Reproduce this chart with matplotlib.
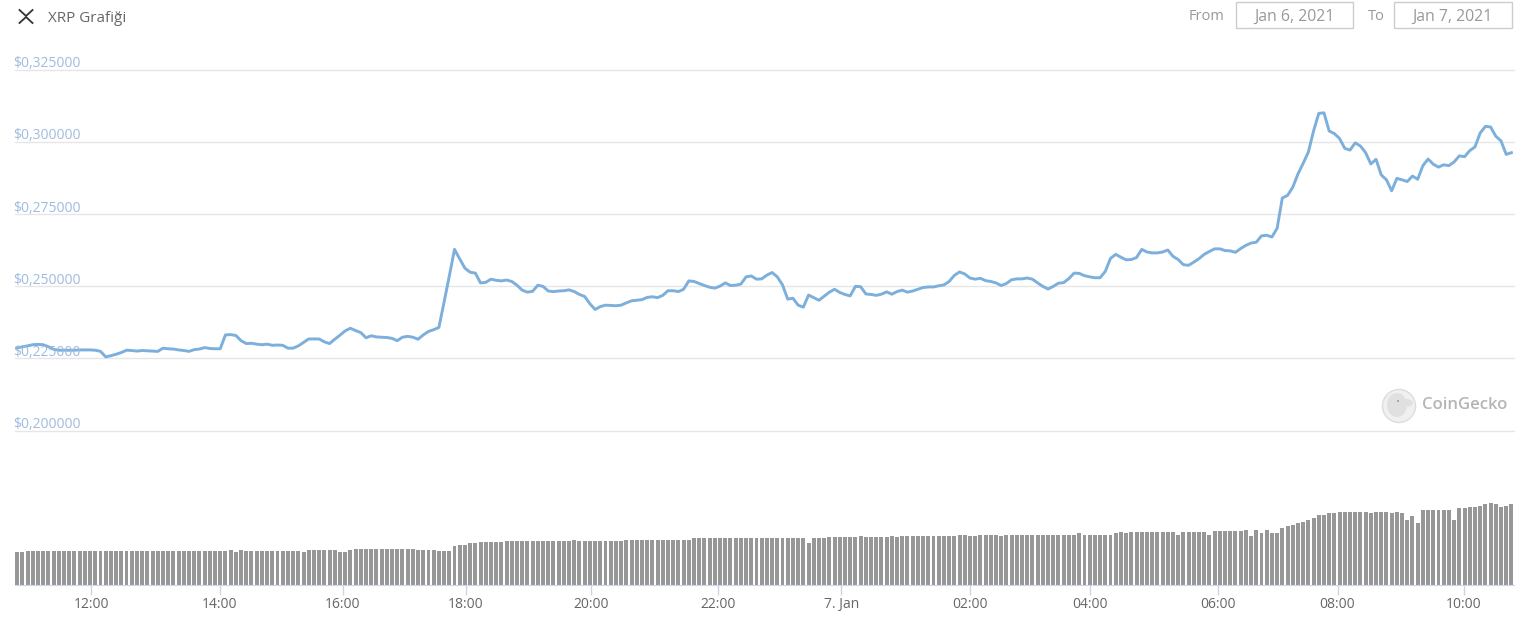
#!/usr/bin/env python3
"""XRP price chart (24h, 5 minute steps) with volume bars under it."""

import matplotlib
matplotlib.use("Agg")
import matplotlib.pyplot as plt
from matplotlib.patches import Circle, Ellipse, Rectangle

plt.rcParams["font.family"] = ["Open Sans", "DejaVu Sans"]

# price in USD, one value per 5 minutes
price = [
    0.2286, 0.2290, 0.2293, 0.2297, 0.2298, 0.2297, 0.2290, 0.2281, 0.2278, 0.2278, 0.2278, 0.2278,
    0.2279, 0.2279, 0.2279, 0.2278, 0.2274, 0.2255, 0.2259, 0.2264, 0.2270, 0.2278, 0.2277, 0.2275,
    0.2277, 0.2276, 0.2275, 0.2274, 0.2285, 0.2283, 0.2282, 0.2279, 0.2277, 0.2274, 0.2280, 0.2282,
    0.2287, 0.2284, 0.2283, 0.2283, 0.2331, 0.2332, 0.2329, 0.2311, 0.2301, 0.2302, 0.2299, 0.2297,
    0.2299, 0.2295, 0.2296, 0.2295, 0.2285, 0.2285, 0.2293, 0.2305, 0.2317, 0.2317, 0.2317, 0.2307,
    0.2301, 0.2316, 0.2330, 0.2345, 0.2354, 0.2346, 0.2339, 0.2321, 0.2328, 0.2324, 0.2323, 0.2322,
    0.2319, 0.2311, 0.2323, 0.2326, 0.2323, 0.2316, 0.2331, 0.2343, 0.2349, 0.2357, 0.2445, 0.2535,
    0.2627, 0.2594, 0.2562, 0.2548, 0.2545, 0.2511, 0.2513, 0.2524, 0.2520, 0.2518, 0.2521, 0.2516,
    0.2503, 0.2486, 0.2479, 0.2482, 0.2503, 0.2499, 0.2483, 0.2481, 0.2483, 0.2484, 0.2487, 0.2481,
    0.2471, 0.2464, 0.2439, 0.2419, 0.2429, 0.2434, 0.2433, 0.2432, 0.2434, 0.2442, 0.2449, 0.2451,
    0.2453, 0.2461, 0.2463, 0.2460, 0.2468, 0.2484, 0.2484, 0.2481, 0.2489, 0.2518, 0.2516, 0.2509,
    0.2502, 0.2496, 0.2493, 0.2500, 0.2511, 0.2502, 0.2503, 0.2507, 0.2532, 0.2535, 0.2524, 0.2525,
    0.2538, 0.2547, 0.2532, 0.2504, 0.2455, 0.2458, 0.2434, 0.2427, 0.2469, 0.2460, 0.2451, 0.2465,
    0.2479, 0.2489, 0.2478, 0.2471, 0.2466, 0.2499, 0.2498, 0.2473, 0.2471, 0.2468, 0.2472, 0.2480,
    0.2472, 0.2481, 0.2486, 0.2479, 0.2483, 0.2489, 0.2495, 0.2497, 0.2497, 0.2501, 0.2504, 0.2516,
    0.2537, 0.2549, 0.2542, 0.2528, 0.2524, 0.2527, 0.2519, 0.2516, 0.2511, 0.2502, 0.2509, 0.2522,
    0.2525, 0.2525, 0.2528, 0.2524, 0.2511, 0.2499, 0.2490, 0.2499, 0.2510, 0.2512, 0.2526, 0.2545,
    0.2544, 0.2536, 0.2532, 0.2529, 0.2529, 0.2551, 0.2596, 0.2610, 0.2600, 0.2591, 0.2592, 0.2599,
    0.2627, 0.2618, 0.2615, 0.2615, 0.2618, 0.2625, 0.2603, 0.2592, 0.2574, 0.2572, 0.2583, 0.2595,
    0.2610, 0.2620, 0.2629, 0.2629, 0.2623, 0.2622, 0.2617, 0.2630, 0.2641, 0.2649, 0.2652, 0.2674,
    0.2676, 0.2670, 0.2700, 0.2805, 0.2814, 0.2842, 0.2888, 0.2925, 0.2964, 0.3037, 0.3098, 0.3100,
    0.3037, 0.3028, 0.3011, 0.2977, 0.2971, 0.2996, 0.2985, 0.2962, 0.2923, 0.2939, 0.2885, 0.2868,
    0.2830, 0.2873, 0.2868, 0.2862, 0.2881, 0.2870, 0.2917, 0.2940, 0.2922, 0.2912, 0.2920, 0.2917,
    0.2930, 0.2951, 0.2948, 0.2969, 0.2982, 0.3030, 0.3053, 0.3051, 0.3019, 0.3003, 0.2956, 0.2962,
]

# volume has no scale in the picture, so these are relative bar heights
volume = [
    32.5, 32.5, 34, 34, 34, 34, 34, 34, 34, 34, 34, 34,
    34, 34, 34, 34, 34, 34, 34, 34, 34, 34, 34, 34,
    34, 34, 34, 34, 34, 34, 34, 34, 34, 34, 34, 34,
    34, 34, 34, 34, 34, 35, 32.5, 35, 34, 34, 34, 34,
    34, 34, 34, 34, 34, 34, 34, 32.5, 35, 35, 35, 35,
    35, 35, 32.5, 32.5, 35, 36, 36, 36, 36, 36, 36, 36,
    36, 36, 36, 36, 36, 35, 35, 35, 35, 34, 34, 34,
    39, 40, 40, 41.3, 41.3, 42.7, 42.7, 42.7, 42.7, 42.7, 44, 44,
    44, 44, 44, 44, 44, 44, 44, 44, 44, 44, 44, 45,
    44, 44, 44, 44, 44, 44, 44, 44, 44, 45, 45, 45,
    45, 45, 45, 45, 45, 45, 45, 45, 45, 45, 46.3, 46.3,
    46.3, 46.3, 46.3, 46.3, 46.3, 46.3, 46.3, 46.3, 46.3, 46.3, 46.3, 46.3,
    46.3, 46.3, 46.3, 46.3, 46.3, 46.3, 46.3, 46.3, 41.3, 46.3, 46.3, 46.3,
    47.7, 47.7, 47.7, 47.7, 47.7, 47.7, 48.7, 47.7, 47.7, 47.7, 47.7, 47.7,
    49, 47.7, 49, 49, 49, 49, 49, 49, 49, 49, 49, 49,
    49, 50, 50, 49, 49, 50, 50, 50, 50, 49, 50, 50,
    50, 50, 50, 50, 50, 50, 50, 50, 50, 50, 50, 50,
    51.3, 50, 50, 50, 50, 50, 50, 51.3, 52.7, 51.3, 52.7, 52.7,
    52.7, 52.7, 52.7, 52.7, 52.7, 52.7, 52.7, 50, 52.7, 52.7, 52.7, 52.7,
    52.7, 50, 53.7, 53.7, 53.7, 53.7, 53.7, 53.7, 55, 49, 55, 51.3,
    55, 51.3, 51.3, 56.3, 59, 60, 61.3, 62.3, 65, 66.3, 69.7, 69.7,
    71.3, 71.3, 72.7, 72.7, 72.7, 72.7, 72.7, 72.7, 71.3, 72.7, 72.7, 72.7,
    71.3, 72.7, 71.3, 65, 69, 61.3, 75, 75, 75, 75, 75, 75,
    65, 76.3, 76.3, 77.7, 77.7, 79, 80.3, 81.3, 80.3, 77.7, 79, 80.3,
]

price_ticks = [0.200, 0.225, 0.250, 0.275, 0.300, 0.325]
price_labels = ["$0,200000", "$0,225000", "$0,250000", "$0,275000", "$0,300000", "$0,325000"]

# the time axis is ordinal, so ticks sit at sample positions
time_ticks = [14.27, 38.96, 62.5, 86.2, 110.3, 134.6, 158.3, 183.1, 206.1, 230.6, 253.6, 277.9]
time_labels = ["12:00", "14:00", "16:00", "18:00", "20:00", "22:00",
               "7. Jan", "02:00", "04:00", "06:00", "08:00", "10:00"]

W, H = 1527, 620
LINE_COLOR = "#7cafdb"
GRID_COLOR = "#e6e6e6"
LABEL_BLUE = "#9fbcdd"
AXIS_COLOR = "#ccd6eb"


def px_axes(fig, left, top, right, bottom):
    """Axes placed by pixel edges, y counted from the top of the image."""
    return fig.add_axes([left / W, 1 - bottom / H, (right - left) / W, (bottom - top) / H])


fig = plt.figure(figsize=(W / 100, H / 100), dpi=100, facecolor="white")
xs = list(range(len(price)))
xlim = (-0.42, 287.5)

# price panel
ax = px_axes(fig, 15, 69.5, 1514, 430.5)
ax.set_xlim(xlim)
ax.set_ylim(price_ticks[0], price_ticks[-1])
ax.set_yticks(price_ticks)
ax.set_xticks([])
ax.tick_params(left=False, labelleft=False)
ax.grid(True, axis="y", color=GRID_COLOR, linewidth=1)
for g in ax.get_ygridlines():
    g.set_clip_on(False)  # first and last lines sit on the axes edge
ax.set_axisbelow(True)
for s in ax.spines.values():
    s.set_visible(False)
ax.patch.set_alpha(0)
ax.plot(xs, price, color=LINE_COLOR, linewidth=2.1, solid_joinstyle="round", clip_on=False)
for v, label in zip(price_ticks, price_labels):
    ax.annotate(label, (0, v), xycoords=ax.get_yaxis_transform(), xytext=(-1, -1.2),
                textcoords="offset points", color=LABEL_BLUE, fontsize=10, ha="left", va="bottom")

# volume panel
vol = px_axes(fig, 15, 430.5, 1514, 584.5)
vol.set_xlim(xlim)
vol.set_ylim(0, 154)
vol.bar(xs, volume, width=0.76, color="#979797", linewidth=0)
vol.set_yticks([])
vol.set_xticks(time_ticks, time_labels)
vol.tick_params(axis="x", length=7.2, width=1, color=AXIS_COLOR, labelcolor="#666666",
                labelsize=10, pad=2)
for name, s in vol.spines.items():
    s.set_visible(name == "bottom")
vol.spines["bottom"].set_color(AXIS_COLOR)
vol.patch.set_alpha(0)

# page furniture, in image pixels
top = px_axes(fig, 0, 0, W, H)
top.set_xlim(0, W)
top.set_ylim(H, 0)
top.axis("off")
top.patch.set_alpha(0)

# coin icon
top.plot([19.5, 26, 32.5], [10, 16, 10], color="#333333", linewidth=1.3)
top.plot([19.5, 26, 32.5], [23, 17, 23], color="#333333", linewidth=1.3)
top.text(48, 18.5, "XRP Grafiği", color="#666666", fontsize=11, va="center", ha="left")

# date range boxes
top.text(1189, 17, "From", color="#999999", fontsize=10.5, va="center", ha="left")
top.text(1368, 17, "To", color="#999999", fontsize=10.5, va="center", ha="left")
for x0, x1, label in [(1235.5, 1353, "Jan 6, 2021"), (1394, 1511.5, "Jan 7, 2021")]:
    top.add_patch(Rectangle((x0, 2), x1 - x0, 26, facecolor="white", edgecolor="#cccccc", linewidth=1))
    top.text((x0 + x1) / 2, 16.5, label, color="#999999", fontsize=11.4, va="center", ha="center")

# watermark
top.add_patch(Circle((1399, 406), 16.5, facecolor="#f0f0f0", edgecolor="#dddddd", linewidth=1))
top.add_patch(Ellipse((1397, 405), 20, 24, facecolor="#e0e0e0", edgecolor="none"))
top.add_patch(Ellipse((1406, 403), 14, 8, facecolor="#e0e0e0", edgecolor="none"))
top.add_patch(Circle((1398, 401), 1, facecolor="#999999", edgecolor="none"))
top.text(1422, 405, "CoinGecko", color="#b5b5b5", fontsize=12, fontweight="semibold",
         va="center", ha="left")

fig.savefig("out.png", dpi=100)
